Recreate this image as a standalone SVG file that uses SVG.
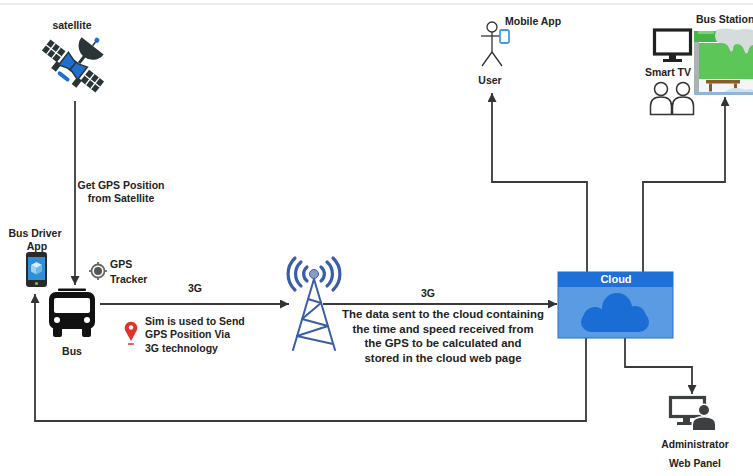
<svg xmlns="http://www.w3.org/2000/svg" width="753" height="476" viewBox="0 0 753 476">
  <defs>
    <marker id="arrow" viewBox="0 0 10 10" refX="10" refY="5" markerWidth="9" markerHeight="9" markerUnits="userSpaceOnUse" orient="auto">
      <path d="M0,0 L10,5 L0,10 z" fill="#333"/>
    </marker>
  </defs>
  <style>
    text { font-family: "Liberation Sans", Arial, sans-serif; font-weight: bold; fill: #222; }
    .lbl { font-size: 10.5px; }
    .mid { text-anchor: middle; }
    .data { font-size: 11.4px; text-anchor: middle; }
    .conn { fill: none; stroke: #3a3a3a; stroke-width: 1.8; }
    .tower { fill: none; stroke: #3b5ca8; stroke-linecap: round; }
  </style>

  <rect width="753" height="476" fill="#ffffff"/>
  <line x1="0" y1="4" x2="753" y2="4" stroke="#dcdcdc" stroke-width="1.2"/>

  <!-- connectors -->
  <g id="connectors">
    <path class="conn" d="M75,101 V285" marker-end="url(#arrow)"/>
    <path class="conn" d="M100,304 H289" marker-end="url(#arrow)"/>
    <path class="conn" d="M323,304 H557" marker-end="url(#arrow)"/>
    <path class="conn" d="M587,272 V182 H492 V93" marker-end="url(#arrow)"/>
    <path class="conn" d="M643,272 V182 H725 V97" marker-end="url(#arrow)"/>
    <path class="conn" d="M625,338 V367 H692 V394" marker-end="url(#arrow)"/>
    <path class="conn" d="M586,338 V421 H35 V294" marker-end="url(#arrow)"/>
    <text class="lbl mid" x="121" y="189">Get GPS Position</text>
    <text class="lbl mid" x="121" y="202">from Satellite</text>
    <text class="lbl mid" x="195" y="292">3G</text>
    <text class="lbl mid" x="428" y="297">3G</text>
    <text class="data" x="443" y="318">The data sent to the cloud containing</text>
    <text class="data" x="443" y="333">the time and speed received from</text>
    <text class="data" x="443" y="347">the GPS to be calculated and</text>
    <text class="data" x="443" y="362">stored in the cloud web page</text>
  </g>

  <!-- satellite -->
  <g id="satellite">
    <text class="lbl mid" x="72" y="29">satellite</text>
    <g transform="translate(73,66) rotate(38)">
      <!-- solar panels -->
      <rect x="-34" y="-7" width="19" height="14" fill="#2b3538"/>
      <rect x="15" y="-7" width="19" height="14" fill="#2b3538"/>
      <g stroke="#ffffff" stroke-width="1.3">
        <line x1="-34" y1="0" x2="-15" y2="0"/>
        <line x1="-28" y1="-7" x2="-28" y2="7"/>
        <line x1="-21.5" y1="-7" x2="-21.5" y2="7"/>
        <line x1="15" y1="0" x2="34" y2="0"/>
        <line x1="21.5" y1="-7" x2="21.5" y2="7"/>
        <line x1="28" y1="-7" x2="28" y2="7"/>
      </g>
      <!-- mounting blocks -->
      <rect x="-16" y="6" width="6" height="9" fill="#2b3538"/>
      <rect x="10" y="6" width="6" height="9" fill="#2b3538"/>
      <!-- body -->
      <path d="M-12,-8 L-3,-5 L3,-5 L12,-8 L12,8 L3,5 L-3,5 L-12,8 Z" fill="#1f6fd1" stroke="#2b3538" stroke-width="1.5"/>
      <line x1="0" y1="-5" x2="0" y2="5" stroke="#2b3538" stroke-width="1.5"/>
      <!-- dish: bowl facing outward, feed horn on the rim -->
      <line x1="3" y1="-6" x2="3" y2="-15" stroke="#2b3538" stroke-width="3"/>
      <path d="M-11,-28 A14,14 0 0 0 17,-28 Z" fill="#2b3538"/>
      <line x1="3" y1="-28" x2="3" y2="-34" stroke="#2b3538" stroke-width="1.5"/>
      <circle cx="3" cy="-35" r="2.5" fill="#1f6fd1"/>
      <!-- lower module -->
      <rect x="-8" y="12" width="14" height="4" rx="2" fill="#1f6fd1"/>
    </g>
  </g>

  <!-- bus driver app -->
  <g id="bus-driver-app">
    <text class="lbl mid" x="35" y="237">Bus Driver</text>
    <text class="lbl mid" x="37" y="250">App</text>
    <rect x="26" y="252" width="21" height="35" rx="3" fill="#2a2a2a"/>
    <rect x="28" y="257" width="17" height="23" fill="#2d8fd8"/>
    <path d="M36.5,262 L42,265 L36.5,268 L31,265 Z" fill="#d6eefb"/>
    <path d="M31,265 L36.5,268 L36.5,274.5 L31,271.5 Z" fill="#9fd2f2"/>
    <path d="M42,265 L36.5,268 L36.5,274.5 L42,271.5 Z" fill="#6ab7ea"/>
    <circle cx="36.5" cy="283.5" r="1.6" fill="#7cc242"/>
  </g>

  <!-- bus -->
  <g id="bus">
    <rect x="58" y="288.5" width="28" height="2.5" rx="1" fill="#111"/>
    <rect x="49" y="292" width="46" height="37" rx="7" fill="#111"/>
    <rect x="54" y="298" width="36" height="15" rx="2" fill="#ffffff"/>
    <circle cx="57" cy="320" r="3" fill="#ffffff"/>
    <circle cx="87" cy="320" r="3" fill="#ffffff"/>
    <rect x="53" y="327" width="9" height="10" rx="2" fill="#111"/>
    <rect x="82" y="327" width="9" height="10" rx="2" fill="#111"/>
    <text class="lbl mid" x="72" y="355">Bus</text>
  </g>

  <!-- gps tracker -->
  <g id="gps-tracker">
    <circle cx="98" cy="271" r="6.5" fill="#ffffff" stroke="#666" stroke-width="1.8"/>
    <circle cx="98" cy="271" r="4" fill="#555"/>
    <g stroke="#666" stroke-width="1.8">
      <line x1="98" y1="262" x2="98" y2="265"/>
      <line x1="98" y1="277" x2="98" y2="280"/>
      <line x1="89" y1="271" x2="92" y2="271"/>
      <line x1="104" y1="271" x2="107" y2="271"/>
    </g>
    <text class="lbl" x="110" y="268">GPS</text>
    <text class="lbl" x="110" y="283">Tracker</text>
  </g>

  <!-- sim note -->
  <g id="sim-note">
    <path d="M131,341 L125.5,331 A6.3,6.3 0 1 1 136.5,331 Z" fill="#e2302b"/>
    <circle cx="131" cy="327.5" r="2.2" fill="#ffffff"/>
    <line x1="128" y1="344" x2="134" y2="344" stroke="#e2302b" stroke-width="1.5"/>
    <text class="lbl" x="145" y="325">Sim is used to Send</text>
    <text class="lbl" x="145" y="338">GPS Position Via</text>
    <text class="lbl" x="145" y="352">3G technology</text>
  </g>

  <!-- cell tower -->
  <g id="tower">
    <g class="tower" stroke-width="3.2">
      <path d="M307,267 A9,9 0 0 0 307,281"/>
      <path d="M321,267 A9,9 0 0 1 321,281"/>
      <path d="M301,262 A16,16 0 0 0 301,286"/>
      <path d="M327,262 A16,16 0 0 1 327,286"/>
      <path d="M295,258 A22,22 0 0 0 295,290"/>
      <path d="M333,258 A22,22 0 0 1 333,290"/>
    </g>
    <circle cx="314" cy="274" r="4.5" fill="#8a9cc4" stroke="#3b5ca8" stroke-width="1"/>
    <g class="tower" stroke-width="2">
      <line x1="314" y1="279" x2="293" y2="350"/>
      <line x1="314" y1="279" x2="335" y2="350"/>
      <line x1="308" y1="299" x2="321" y2="303"/>
      <line x1="321" y1="303" x2="302" y2="319"/>
      <line x1="302" y1="319" x2="328" y2="326"/>
      <line x1="328" y1="326" x2="297" y2="336"/>
      <line x1="297" y1="336" x2="333" y2="344"/>
    </g>
  </g>

  <!-- cloud -->
  <g id="cloud">
    <rect x="558" y="272" width="115" height="66" fill="#5b9be3" stroke="#2a6fc9" stroke-width="1"/>
    <rect x="558" y="272" width="115" height="15" fill="#1f6fd8"/>
    <text x="616" y="283" text-anchor="middle" style="fill:#ffffff;font-size:11px">Cloud</text>
    <g fill="#1a6dd4">
      <circle cx="595" cy="319" r="12"/>
      <circle cx="617" cy="308" r="15"/>
      <circle cx="635" cy="317" r="11"/>
      <circle cx="591" cy="322" r="10"/>
      <circle cx="639" cy="322" r="10"/>
      <rect x="591" y="312" width="48" height="20"/>
    </g>
  </g>

  <!-- user -->
  <g id="user">
    <g fill="none" stroke="#333" stroke-width="1.3">
      <circle cx="492" cy="27" r="5"/>
      <line x1="492" y1="32" x2="492" y2="52"/>
      <line x1="481" y1="36" x2="503" y2="36"/>
      <line x1="492" y1="52" x2="482" y2="66"/>
      <line x1="492" y1="52" x2="502" y2="66"/>
    </g>
    <rect x="500" y="30" width="9" height="13" rx="1.5" fill="#ffffff" stroke="#3aa0e0" stroke-width="1.8"/>
    <text class="lbl" x="505" y="25">Mobile App</text>
    <text class="lbl mid" x="490" y="84">User</text>
  </g>

  <!-- bus station -->
  <g id="bus-station">
    <text class="lbl" x="696" y="23">Bus Station</text>
    <!-- smart tv -->
    <rect x="654.5" y="30" width="36" height="24" fill="#ffffff" stroke="#222" stroke-width="3.2"/>
    <rect x="669" y="55" width="7" height="5" fill="#222"/>
    <rect x="663" y="59" width="19" height="3" fill="#222"/>
    <text class="lbl mid" x="668" y="76">Smart TV</text>
    <!-- viewers -->
    <g fill="#ffffff" stroke="#333" stroke-width="1.5">
      <circle cx="661" cy="89" r="6.5"/>
      <path d="M650.5,114.5 V106 Q650.5,97 661,97 Q671.5,97 671.5,106 V114.5 Z"/>
      <circle cx="683" cy="89" r="6.5"/>
      <path d="M672.5,114.5 V106 Q672.5,97 683,97 Q693.5,97 693.5,106 V114.5 Z"/>
    </g>
    <!-- shelter -->
    <rect x="694" y="42" width="5" height="52" fill="#aab2b2"/>
    <rect x="699" y="43" width="54" height="36" fill="#5cc658"/>
    <rect x="699" y="79" width="54" height="13" fill="#f3f6f6"/>
    <rect x="694" y="31" width="59" height="11" fill="#47b448"/>
    <rect x="698" y="31" width="16" height="3" fill="#7fcf7c"/>
    <path d="M716,30 Q726,27 736,30 Q746,28 753,30 V45 Q749,46 748,52 Q746,56 744,50 Q742,44 737,44 Q733,44 733,50 Q731,54 729,48 Q727,43 721,43 Q716,44 715,36 Z" fill="#d5dcdc"/>
    <rect x="706" y="80" width="34" height="3.5" fill="#8a5a2b"/>
    <rect x="709" y="83.5" width="3" height="8" fill="#8a5a2b"/>
    <rect x="734" y="83.5" width="3" height="8" fill="#8a5a2b"/>
    <path d="M724,92 Q734,85 746,90 Q750,88 753,90 V92 Z" fill="#cfe0ee"/>
    <rect x="694" y="92" width="59" height="3" fill="#8fb6d9"/>
  </g>

  <!-- administrator web panel -->
  <g id="admin-panel">
    <rect x="670.5" y="397.5" width="34" height="19" fill="#ffffff" stroke="#3c4040" stroke-width="3.2"/>
    <rect x="683" y="418" width="7" height="5" fill="#3c4040"/>
    <rect x="677" y="422" width="20" height="3" fill="#3c4040"/>
    <circle cx="704" cy="410" r="6.5" fill="#ffffff"/>
    <circle cx="704" cy="410" r="5" fill="#3c4040"/>
    <path d="M691.5,431 V424 Q691.5,416 704,416 Q716.5,416 716.5,424 V431 Z" fill="#ffffff"/>
    <path d="M693,430 V424 Q693,417.5 704,417.5 Q715,417.5 715,424 V430 Z" fill="#3c4040"/>
    <text class="mid" x="695" y="448" style="font-size:10.3px">Administrator</text>
    <text class="mid" x="695" y="467" style="font-size:10.3px">Web Panel</text>
  </g>
</svg>
